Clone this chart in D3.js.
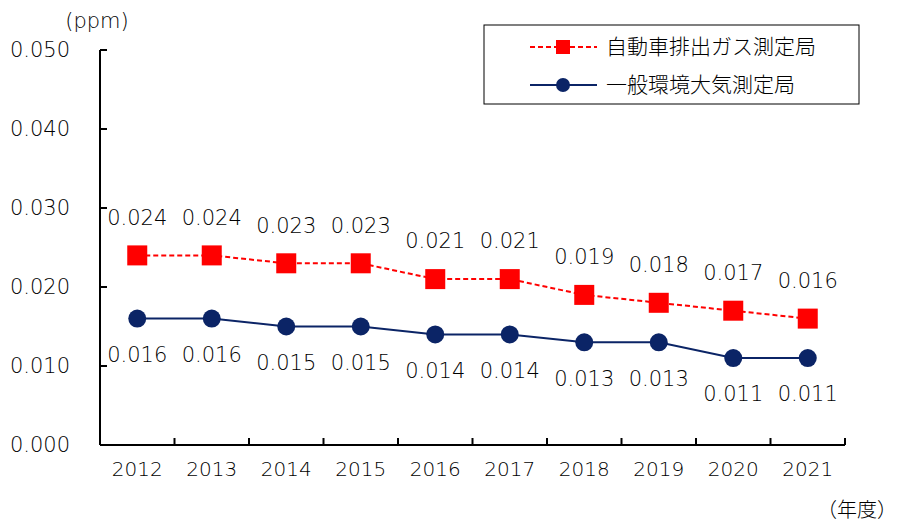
<!DOCTYPE html>
<html>
<head>
<meta charset="utf-8">
<script src="https://cdn.jsdelivr.net/npm/d3@7"></script>
<style>
  body { margin: 0; background: #fff; }
  text { font-family: "DejaVu Sans", "Noto Sans CJK JP", sans-serif; font-weight: 200; fill: #000; }
  text.jp { font-family: "Noto Sans CJK JP", sans-serif; font-weight: 300; }
</style>
</head>
<body>
<div id="chart"></div>
<script>
// data
var years = ['2012', '2013', '2014', '2015', '2016', '2017', '2018', '2019', '2020', '2021'];
var roadside = [0.024, 0.024, 0.023, 0.023, 0.021, 0.021, 0.019, 0.018, 0.017, 0.016];
var ambient = [0.016, 0.016, 0.015, 0.015, 0.014, 0.014, 0.013, 0.013, 0.011, 0.011];
var yTicks = [0, 0.01, 0.02, 0.03, 0.04, 0.05];
var seriesNames = ['自動車排出ガス測定局', '一般環境大気測定局'];

var width = 898, height = 523;
var m = {left: 100, right: 53, top: 50, bottom: 78};

var svg = d3.select('#chart').append('svg')
	.attr('width', width).attr('height', height);

var x = d3.scaleBand().domain(years).range([m.left, width - m.right]);
var y = d3.scaleLinear().domain([0, 0.05]).range([height - m.bottom, m.top]);
var cx = function(d, i) { return x(years[i]) + x.bandwidth() / 2; };
var fmt = d3.format('.3f');

// y axis: ticks point inwards
var yAxis = svg.append('g').attr('transform', 'translate(' + m.left + ',0)');
yAxis.append('line').attr('y1', y(0)).attr('y2', y(0.05)).attr('stroke', '#000').attr('stroke-width', 2);
yAxis.selectAll('.tk').data(yTicks).enter().append('line')
	.attr('x1', 0).attr('x2', 7).attr('y1', function(d) { return y(d); }).attr('y2', function(d) { return y(d); })
	.attr('stroke', '#000').attr('stroke-width', 2);
yAxis.selectAll('.lb').data(yTicks).enter().append('text')
	.attr('x', -30).attr('y', function(d) { return y(d); }).attr('dy', '0.35em')
	.attr('text-anchor', 'end').attr('font-size', 21)
	.text(fmt);

// x axis: ticks at band edges, pointing up
var xAxis = svg.append('g');
xAxis.append('line').attr('x1', m.left).attr('x2', width - m.right).attr('y1', y(0)).attr('y2', y(0))
	.attr('stroke', '#000').attr('stroke-width', 2);
xAxis.selectAll('.tk').data(years).enter().append('line')
	.attr('x1', function(d) { return x(d) + x.bandwidth(); }).attr('x2', function(d) { return x(d) + x.bandwidth(); })
	.attr('y1', y(0)).attr('y2', y(0) - 7).attr('stroke', '#000').attr('stroke-width', 2);
xAxis.selectAll('.lb').data(years).enter().append('text')
	.attr('x', function(d) { return x(d) + x.bandwidth() / 2; }).attr('y', y(0) + 31)
	.attr('text-anchor', 'middle').attr('font-size', 20).text(function(d) { return d; });

svg.append('text').attr('x', 97).attr('y', 28).attr('text-anchor', 'middle').attr('font-size', 21).text('(ppm)');
svg.append('text').attr('class', 'jp').attr('x', 897).attr('y', 517).attr('text-anchor', 'end').attr('font-size', 20).text('（年度）');

var line = d3.line().x(cx).y(function(d) { return y(d); });

// roadside stations: red dashed with squares
svg.append('path').datum(roadside).attr('d', line).attr('fill', 'none')
	.attr('stroke', '#ff0000').attr('stroke-width', 2).attr('stroke-dasharray', '5,3');
svg.selectAll('.sq').data(roadside).enter().append('rect')
	.attr('x', function(d, i) { return cx(d, i) - 10; }).attr('y', function(d) { return y(d) - 10; })
	.attr('width', 20).attr('height', 20).attr('fill', '#ff0000');
svg.selectAll('.rl').data(roadside).enter().append('text')
	.attr('x', cx).attr('y', function(d) { return y(d) - 38; }).attr('dy', '0.35em')
	.attr('text-anchor', 'middle').attr('font-size', 21).text(fmt);

// ambient stations: navy solid with circles
svg.append('path').datum(ambient).attr('d', line).attr('fill', 'none')
	.attr('stroke', '#0b2466').attr('stroke-width', 2);
svg.selectAll('.ci').data(ambient).enter().append('circle')
	.attr('cx', cx).attr('cy', function(d) { return y(d); }).attr('r', 9).attr('fill', '#0b2466');
svg.selectAll('.al').data(ambient).enter().append('text')
	.attr('x', cx).attr('y', function(d) { return y(d) + 36; }).attr('dy', '0.35em')
	.attr('text-anchor', 'middle').attr('font-size', 21).text(fmt);

// legend
var lg = svg.append('g');
lg.append('rect').attr('x', 484).attr('y', 25).attr('width', 375).attr('height', 79)
	.attr('fill', '#fff').attr('stroke', '#000').attr('stroke-width', 1);
lg.append('line').attr('x1', 530).attr('x2', 597).attr('y1', 47).attr('y2', 47)
	.attr('stroke', '#ff0000').attr('stroke-width', 2).attr('stroke-dasharray', '5,3');
lg.append('rect').attr('x', 556).attr('y', 40).attr('width', 14).attr('height', 14).attr('fill', '#ff0000');
lg.append('line').attr('x1', 530).attr('x2', 597).attr('y1', 85).attr('y2', 85)
	.attr('stroke', '#0b2466').attr('stroke-width', 2);
lg.append('circle').attr('cx', 563).attr('cy', 85).attr('r', 7).attr('fill', '#0b2466');
lg.selectAll('.lt').data(seriesNames).enter().append('text')
	.attr('class', 'jp')
	.attr('x', 606).attr('y', function(d, i) { return 47 + i * 38; }).attr('dy', '0.35em')
	.attr('font-size', 21).text(function(d) { return d; });
</script>
</body>
</html>
